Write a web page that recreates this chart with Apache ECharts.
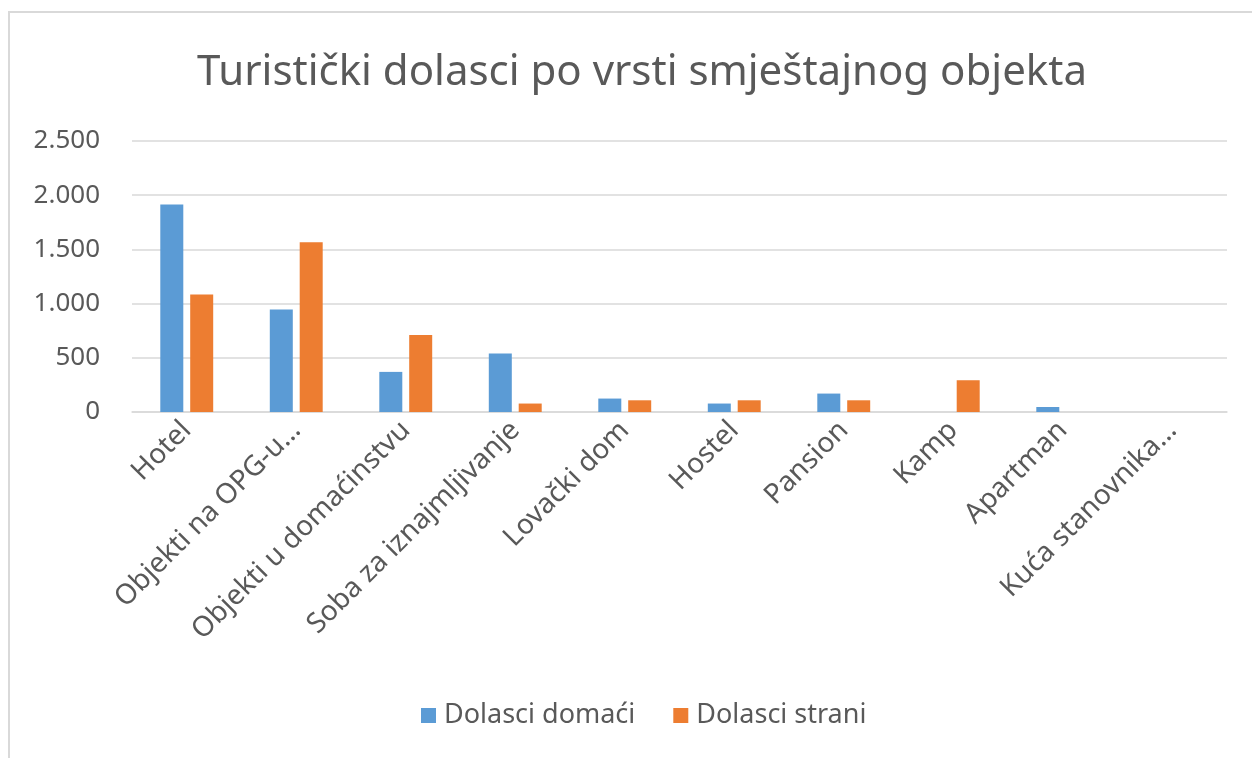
<!DOCTYPE html>
<html>
<head>
<meta charset="utf-8">
<script src="https://cdn.jsdelivr.net/npm/echarts@6/dist/echarts.min.js"></script>
<style>
html, body { margin: 0; padding: 0; background: #fff; }
#main { width: 1252px; height: 758px; }
</style>
</head>
<body>
<div id="main"></div>
<script>
var categories = ['Hotel', 'Objekti na OPG-u…', 'Objekti u domaćinstvu', 'Soba za iznajmljivanje',
    'Lovački dom', 'Hostel', 'Pansion', 'Kamp', 'Apartman', 'Kuća stanovnika…'];
var domaci = [1915, 945, 370, 540, 124, 78, 170, 0, 46, 0];
var strani = [1085, 1565, 711, 78, 108, 108, 108, 293, 0, 0];
var yTicks = [0, 500, 1000, 1500, 2000, 2500];

var textColor = '#595959';
var font = 'Noto Sans';

var myChart = echarts.init(document.getElementById('main'));
var option = {
    animation: false,
    backgroundColor: '#fff',
    graphic: [{
        type: 'rect',
        shape: { x: 9, y: 12, width: 1300, height: 800 },
        style: { fill: 'none', stroke: '#d9d9d9', lineWidth: 2 },
        silent: true
    }],
    title: {
        text: 'Turistički dolasci po vrsti smještajnog objekta',
        left: 192,
        top: 47,
        textStyle: { color: textColor, fontSize: 42, fontWeight: 'normal', fontFamily: font }
    },
    legend: {
        bottom: 24,
        left: 416,
        itemWidth: 15,
        itemHeight: 15,
        itemGap: 38,
        icon: 'rect',
        textStyle: { color: textColor, fontSize: 27, fontFamily: font, padding: [0, 0, 0, 3] },
        data: ['Dolasci domaći', 'Dolasci strani']
    },
    grid: { left: 132, right: 25, top: 141, bottom: 346 },
    xAxis: {
        type: 'category',
        data: categories,
        axisLine: { lineStyle: { color: '#d9d9d9', width: 1.5 } },
        axisTick: { show: false },
        axisLabel: {
            rotate: 45,
            interval: 0,
            margin: 14,
            color: textColor,
            fontSize: 28,
            fontFamily: font
        }
    },
    yAxis: {
        type: 'value',
        min: 0,
        max: 2500,
        interval: 500,
        axisLine: { show: false },
        axisTick: { show: false },
        splitLine: { lineStyle: { color: '#d9d9d9', width: 1.5 } },
        axisLabel: {
            margin: 32,
            color: textColor,
            fontSize: 26,
            fontFamily: font,
            formatter: function (v) {
                return yTicks.indexOf(v) >= 0 ? String(v).replace(/\B(?=(\d{3})+(?!\d))/g, '.') : '';
            }
        }
    },
    series: [
        {
            name: 'Dolasci domaći',
            type: 'bar',
            data: domaci,
            barWidth: 23,
            barGap: '30%',
            itemStyle: { color: '#5b9bd5' }
        },
        {
            name: 'Dolasci strani',
            type: 'bar',
            data: strani,
            barWidth: 23,
            itemStyle: { color: '#ed7d31' }
        }
    ]
};
myChart.setOption(option);
</script>
</body>
</html>
